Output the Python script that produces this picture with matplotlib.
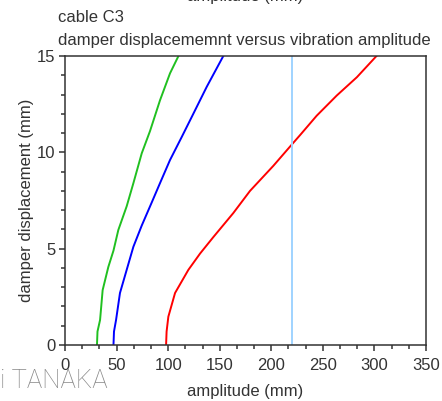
import matplotlib.pyplot as plt
from matplotlib.ticker import MultipleLocator, AutoMinorLocator

plt.rcParams['font.family'] = ['Liberation Sans', 'DejaVu Sans']

# curves (amplitude mm, damper displacement mm)
green_amp = [31, 31.5, 34, 36.5, 42, 47, 51.7, 59.8, 66.3, 74.4, 82.4, 92.1, 101.8, 110]
green_disp = [0, 0.7, 1.3, 2.85, 4.05, 4.9, 5.97, 7.2, 8.4, 9.95, 11.1, 12.7, 14.1, 15]

blue_amp = [47, 47.5, 49.5, 53.3, 59.8, 66.3, 74.4, 84.1, 92.1, 101.8, 113.2, 124.4, 137.4, 153.5]
blue_disp = [0, 0.7, 1.3, 2.7, 3.9, 5.1, 6.2, 7.4, 8.4, 9.6, 10.8, 12.0, 13.4, 15]

red_amp = [98, 98.5, 100.2, 106.7, 119.6, 131, 143.8, 163.2, 179.4, 202, 219.8, 228, 244, 263.5, 283, 302]
red_disp = [0, 0.7, 1.47, 2.7, 3.9, 4.75, 5.6, 6.85, 8.0, 9.3, 10.4, 10.9, 11.9, 12.95, 13.9, 15]

limit_amp = 220

txt = '#333333'

fig = plt.figure(figsize=(4.42, 4.01), dpi=100)
ax = fig.add_axes([65/442, 56/401, 361/442, 289/401])

ax.plot(green_amp, green_disp, color='#20c020', lw=1.4)
ax.plot(blue_amp, blue_disp, color='#0000ff', lw=1.4)
ax.plot(red_amp, red_disp, color='#ff0000', lw=1.4)
ax.axvline(limit_amp, color='#9fd3ff', lw=1.4)

ax.set_xlim(0, 350)
ax.set_ylim(0, 15)
ax.xaxis.set_major_locator(MultipleLocator(50))
ax.xaxis.set_minor_locator(AutoMinorLocator(3))
ax.yaxis.set_major_locator(MultipleLocator(5))
ax.yaxis.set_minor_locator(AutoMinorLocator(5))
ax.tick_params(which='major', length=4, width=1.1, color=txt, labelsize=12,
               labelcolor=txt, pad=3)
ax.tick_params(axis='x', which='major', pad=5)
ax.tick_params(which='minor', length=3, width=1.1, color=txt)
for s in ax.spines.values():
    s.set_color(txt)
    s.set_linewidth(1.1)

ax.set_xlabel('amplitude (mm)', fontsize=12, color=txt, labelpad=8)
ax.set_ylabel('damper displacement (mm)', fontsize=12, color=txt, labelpad=2)

fig.text(58/442, 1 - 17/401, 'cable C3', fontsize=12, color=txt, va='center')
fig.text(58/442, 1 - 40/401, 'damper displacememnt versus vibration amplitude',
         fontsize=12, color=txt, va='center')
# leftover label from the chart above, mostly cut off
fig.text(245/442, 1 - 1/401, 'amplitude (mm)', fontsize=12, color=txt,
         ha='center', va='baseline')
fig.text(0.0, 1 - 388/401, 'i TANAKA', fontsize=18.5, color='#888888',
         family=['Roboto', 'DejaVu Sans'], weight='light', va='baseline')

fig.savefig('out.png', dpi=100)
